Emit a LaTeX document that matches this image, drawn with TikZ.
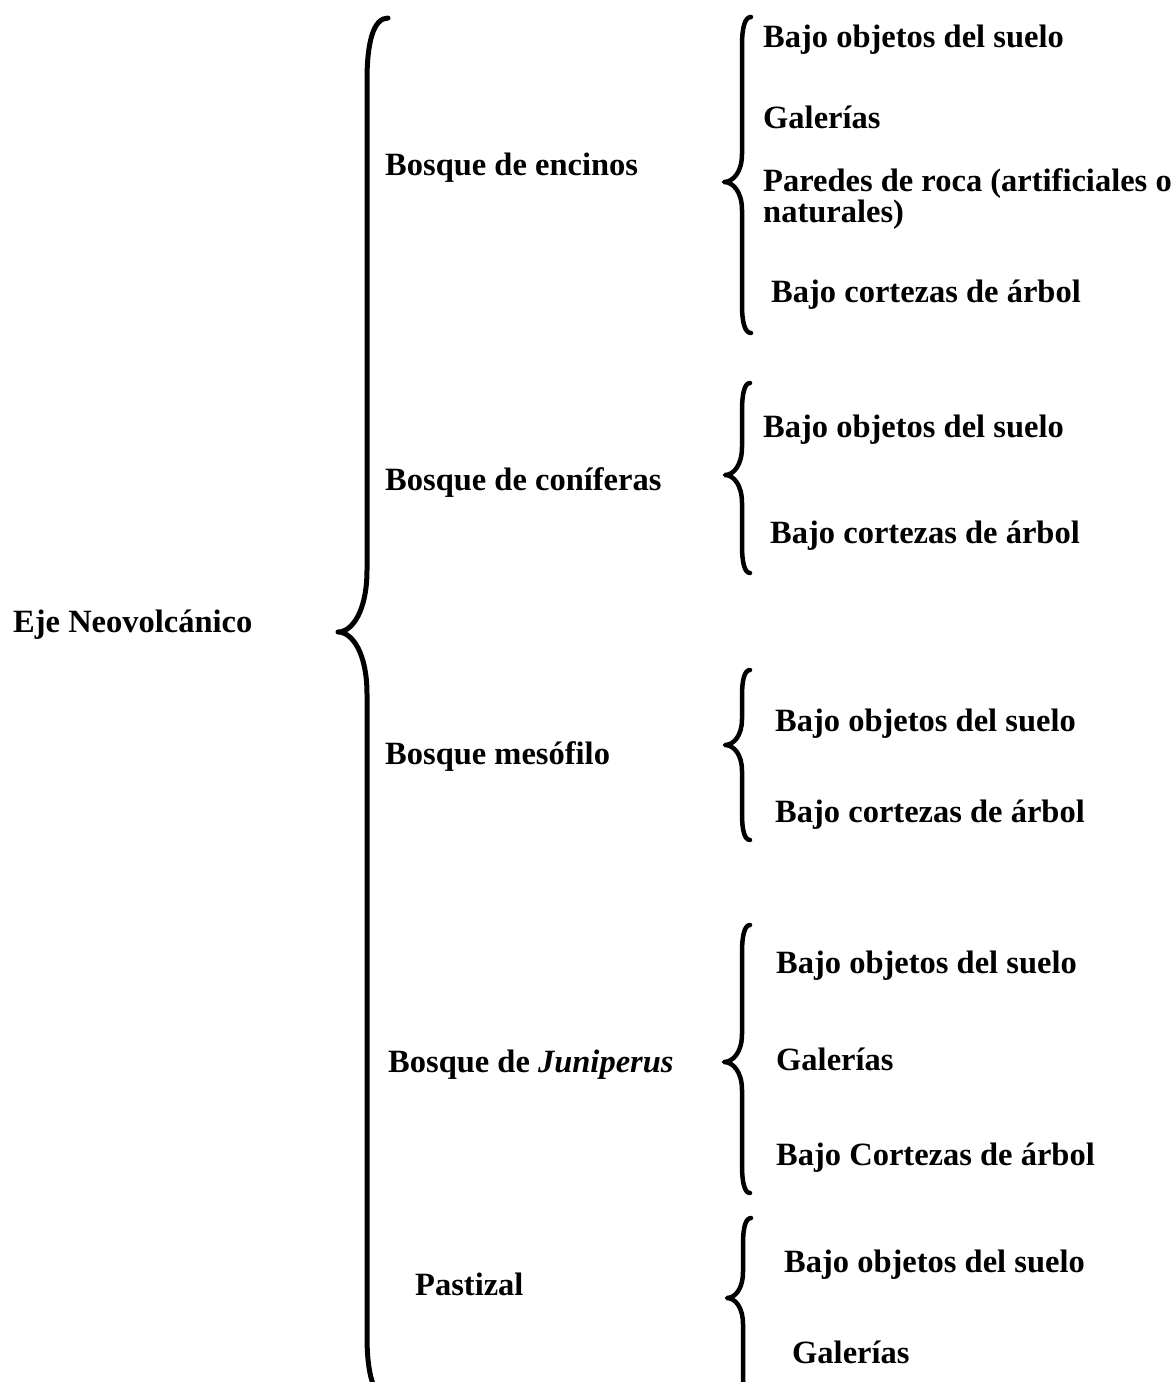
\documentclass[tikz,border=0pt]{standalone}
\usepackage{fontspec}
\setmainfont{Liberation Serif}
\begin{document}
\begin{tikzpicture}[x=1pt,y=-1pt,
  lbl/.style={anchor=base west,inner sep=0pt,font=\fontsize{32.5}{29}\selectfont\bfseries,align=left},
  bracepath/.style={line width=#1,line cap=round,line join=round},
  bracepath/.default=4.5pt]
\useasboundingbox (0,0) rectangle (1173,1382);
\newcommand\mybrace[8]{%
  \draw[bracepath=#8] (#1+#5,#2) .. controls (#1+0.3*#5,#2) and (#1,#2+0.4*#7) .. (#1,#2+#7)
    -- (#1,#3-#7) .. controls (#1,#3-0.35*#7) and (#1-0.5*#6,#3) .. (#1-#6,#3)
    .. controls (#1-0.5*#6,#3) and (#1,#3+0.35*#7) .. (#1,#3+#7)
    -- (#1,#4-#7) .. controls (#1,#4-0.4*#7) and (#1+0.3*#5,#4) .. (#1+#5,#4);}
% main brace
\mybrace{367}{18}{632}{1398}{21}{29}{62}{5pt}
% small braces
\mybrace{742}{17}{182}{333}{9}{18}{28}{4.5pt}
\mybrace{742}{383}{475}{573}{8}{17}{28}{4.5pt}
\mybrace{742}{670}{745}{840}{8}{17}{26}{4.5pt}
\mybrace{742}{925}{1062}{1193}{8}{18}{28}{4.5pt}
\mybrace{743}{1218}{1298}{1400}{8}{16}{26}{4.5pt}
% root
\node[lbl] (root) at (13,632) {Eje Neovolcánico};
% level 1
\node[lbl] (enc) at (385,175) {Bosque de encinos};
\node[lbl] (con) at (385,490) {Bosque de coníferas};
\node[lbl] (mes) at (385,764) {Bosque mesófilo};
\node[lbl] (jun) at (388,1072) {Bosque de \textit{Juniperus}};
\node[lbl] (pas) at (415,1295) {Pastizal};
% encinos
\node[lbl] (enc1) at (763,47) {Bajo objetos del suelo};
\node[lbl] (enc2) at (763,128) {Galerías};
\node[lbl] (enc3) at (763,222) {Paredes de roca (artificiales o\\naturales)};
\node[lbl] (enc4) at (771,302) {Bajo cortezas de árbol};
% coniferas
\node[lbl] (con1) at (763,437) {Bajo objetos del suelo};
\node[lbl] (con2) at (770,543) {Bajo cortezas de árbol};
% mesofilo
\node[lbl] (mes1) at (775,731) {Bajo objetos del suelo};
\node[lbl] (mes2) at (775,822) {Bajo cortezas de árbol};
% juniperus
\node[lbl] (jun1) at (776,973) {Bajo objetos del suelo};
\node[lbl] (jun2) at (776,1070) {Galerías};
\node[lbl] (jun3) at (776,1165) {Bajo Cortezas de árbol};
% pastizal
\node[lbl] (pas1) at (784,1272) {Bajo objetos del suelo};
\node[lbl] (pas2) at (792,1363) {Galerías};
\end{tikzpicture}
\end{document}
